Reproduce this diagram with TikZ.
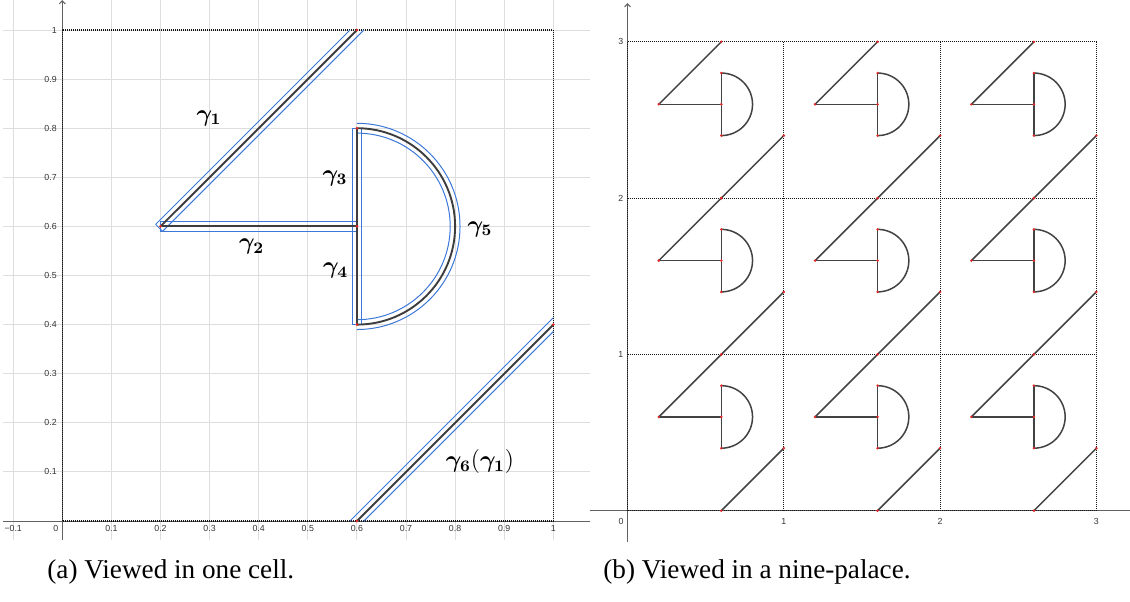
\documentclass[tikz,border=0pt]{standalone}
\usepackage[no-math]{fontspec}
\setmainfont{Liberation Serif}
\newfontfamily\tickfont{Liberation Sans}
\usepackage{bm}
\usetikzlibrary{arrows.meta}
\definecolor{tubeblue}{RGB}{60,120,216}
\definecolor{dotred}{RGB}{228,40,40}
\tikzset{
  gridl/.style={draw=black!13, line width=0.5pt},
  axisl/.style={draw=black!62, line width=0.5pt},
  cellb/.style={draw=black!92, line width=0.55pt, dash pattern=on 0.5pt off 0.5pt},
  curveA/.style={draw=black!76, line width=0.95pt},
  curveB/.style={draw=black!74, line width=0.75pt},
  tube/.style={draw=tubeblue, line width=0.5pt},
  ticklab/.style={font=\fontsize{4.4}{5}\tickfont, text=black!80, inner sep=0pt},
  glab/.style={font=\fontsize{11.5}{13}\selectfont, inner sep=0pt},
  caption/.style={font=\fontsize{13.6}{16}\selectfont, inner sep=0pt, anchor=west},
  upar/.style={-{Straight Barb[length=1.6pt,width=3pt]}}
}
\begin{document}
\begin{tikzpicture}[x=0.5pt,y=-0.5pt]
\useasboundingbox (0,0) rectangle (1130,601);

% ---------------- panel (a) ----------------
\begin{scope}[shift={(62.3,521)}, x=245.5pt, y=245.5pt]
  \foreach \i in {-1,...,10} \draw[gridl] (\i/10,-0.039) -- (\i/10,1.061);
  \foreach \j in {1,...,10} \draw[gridl] (-0.121,\j/10) -- (1.0748,\j/10);
  \draw[axisl] (-0.121,0) -- (1.0748,0);
  \draw[axisl,upar] (0,-0.039) -- (0,1.061);
  \draw[cellb] (0,0) rectangle (1,1);
  % tick labels
  \foreach \v [count=\n] in {0.1,0.2,0.3,0.4,0.5,0.6,0.7,0.8,0.9} {
    \node[ticklab] (ax\n) at (\v,0) [yshift=-3.5pt] {\v};
    \node[ticklab, anchor=east] (ay\n) at (0,\v) [xshift=-2.6pt] {\v};
  }
  \node[ticklab] (axm) at (-0.1,0) [yshift=-3.5pt] {−0.1};
  \node[ticklab] (axone) at (1,0) [yshift=-3.5pt] {1};
  \node[ticklab, anchor=east] (ayone) at (0,1) [xshift=-2.6pt] {1};
  \node[ticklab] (azero) at (0,0) [xshift=-3.2pt, yshift=-3.5pt] {0};
  % blue tubes
  \draw[tube] (0.1901,0.6042) -- (0.5859,1);
  \draw[tube] (0.2042,0.5901) -- (0.6141,1);
  \draw[tube] (0.1901,0.6042) -- (0.2042,0.5901);
  \draw[tube] (0.2,0.5905) rectangle (0.6,0.6095);
  \draw[tube] (0.5905,0.4) rectangle (0.6095,0.8);
  \draw[tube] (0.6,0.81) arc[start angle=90, end angle=-90, radius=0.21];
  \draw[tube] (0.6,0.79) arc[start angle=90, end angle=-90, radius=0.19];
  \draw[tube] (0.5859,0) -- (1,0.4141);
  \draw[tube] (0.6141,0) -- (1,0.3859);
  % curves
  \draw[curveA] (0.2,0.6) -- (0.6,1);
  \draw[curveA] (0.2,0.6) -- (0.6,0.6);
  \draw[curveA] (0.6,0.4) -- (0.6,0.8);
  \draw[curveA] (0.6,0.8) arc[start angle=90, end angle=-90, radius=0.2];
  \draw[curveA] (0.6,0) -- (1,0.4);
  \foreach \p in {(0.2,0.6),(0.6,0.6),(0.6,0.8),(0.6,0.4),(0.6,1),(0.6,0),(1,0.4)} {\fill[dotred] \p circle (0.75pt);}
\end{scope}

\node[glab] (g1) at (209,118) {$\bm{\gamma}_{\bm{1}}$};
\node[glab] (g2) at (251.7,246.7) {$\bm{\gamma}_{\bm{2}}$};
\node[glab] (g3) at (335,178) {$\bm{\gamma}_{\bm{3}}$};
\node[glab] (g4) at (335.7,270.7) {$\bm{\gamma}_{\bm{4}}$};
\node[glab] (g5) at (480,229) {$\bm{\gamma}_{\bm{5}}$};
\node[glab] (g6) at (480,461.7) {$\bm{\gamma}_{\bm{6}}(\bm{\gamma}_{\bm{1}})$};

% ---------------- panel (b) ----------------
\begin{scope}[shift={(627.5,510.7)}, x=78.15pt, y=78.15pt]
  \draw[axisl] (-0.24,0) -- (3.215,0);
  \draw[axisl,upar] (0,-0.2) -- (0,3.248);
  \foreach \k in {0,1,2,3} {
    \draw[cellb] (\k,0) -- (\k,3);
    \draw[cellb] (0,\k) -- (3,\k);
  }
  \foreach \k in {1,2,3} {
    \node[ticklab] (bx\k) at (\k,0) [yshift=-5.15pt] {\k};
    \node[ticklab] (by\k) at (0,\k) [xshift=-3.4pt] {\k};
  }
  \node[ticklab] (bzero) at (0,0) [xshift=-3.25pt, yshift=-5.15pt] {0};
  \foreach \i in {0,1,2} {
    \foreach \j in {0,1,2} {
      \begin{scope}[shift={(\i,\j)}]
        \draw[curveB] (0.2,0.6) -- (0.6,1);
        \draw[curveB] (0.2,0.6) -- (0.6,0.6);
        \draw[curveB] (0.6,0.4) -- (0.6,0.8);
        \draw[curveB] (0.6,0.8) arc[start angle=90, end angle=-90, radius=0.2];
        \draw[curveB] (0.6,0) -- (1,0.4);
        \foreach \p in {(0.2,0.6),(0.6,0.6),(0.6,0.8),(0.6,0.4),(0.6,1),(0.6,0),(1,0.4)} {\fill[dotred] \p circle (0.7pt);}
      \end{scope}
    }
  }
\end{scope}

% captions
\node[caption] (capa) at (47,572) {(a) Viewed in one cell.};
\node[caption] (capb) at (603,572) {(b) Viewed in a nine-palace.};
\end{tikzpicture}
\end{document}
